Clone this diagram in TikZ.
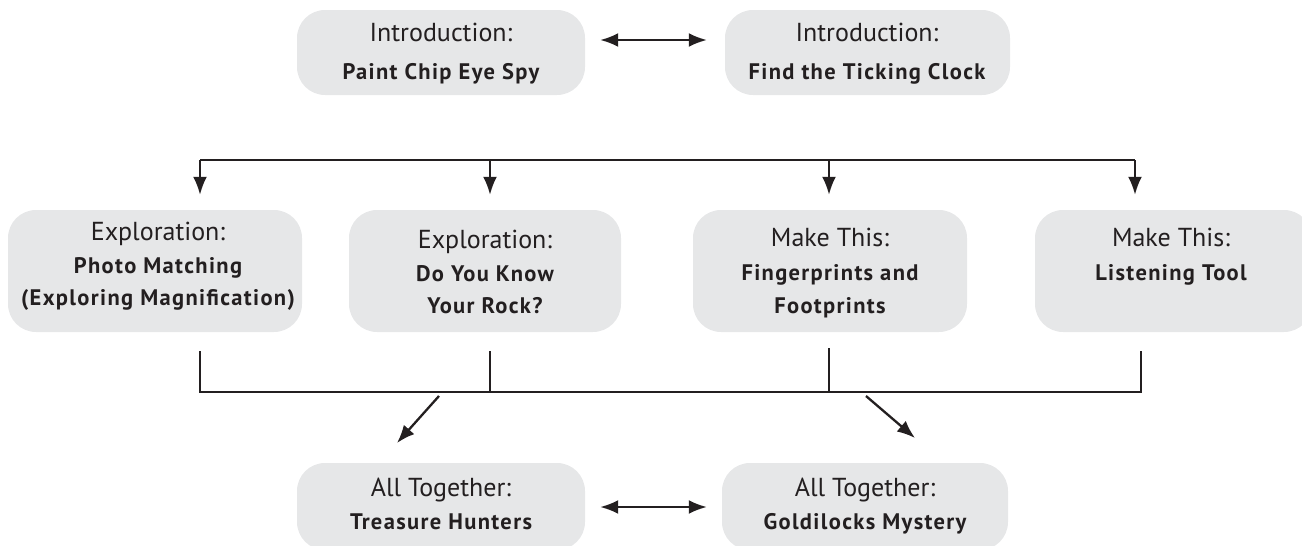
\documentclass[tikz,border=0pt]{standalone}
\usepackage{fontspec}
\setmainfont{PT Sans}
\newfontfamily\subf{PT Sans}[LetterSpace=6]
\usetikzlibrary{arrows.meta,calc}
\definecolor{boxgray}{HTML}{E6E7E8}
\definecolor{ink}{HTML}{231F20}
\tikzset{
  box/.style={fill=boxgray, draw=none, rounded corners=28pt, inner sep=0pt},
  lnone/.style={anchor=mid, inner sep=0pt, text=ink, font=\fontsize{26}{28}\selectfont},
  lntwo/.style={anchor=mid, inner sep=0pt, text=ink, font=\subf\bfseries\fontsize{22.5}{26}\selectfont},
  conn/.style={draw=ink, line width=2.4pt},
  thinconn/.style={draw=ink, line width=1.6pt},
  arr/.style={draw=ink, line width=2.3pt, -{Latex[length=18pt,width=14pt]}},
  darr/.style={draw=ink, line width=2.3pt, {Latex[length=18pt,width=14pt]}-{Latex[length=18pt,width=14pt]}},
}
\begin{document}
\begin{tikzpicture}[x=1pt,y=-1pt]
\useasboundingbox (0,0) rectangle (1302,546);
\clip (0,0) rectangle (1302,546);
% boxes
\node[box, minimum width=288pt, minimum height=85pt] (i1) at (441,52.5) {};
\node[box, minimum width=285pt, minimum height=85pt] (i2) at (867.5,52.5) {};
\node[box, minimum width=294pt, minimum height=122pt] (e1) at (155,271) {};
\node[box, minimum width=272pt, minimum height=122pt] (e2) at (485,271) {};
\node[box, minimum width=274pt, minimum height=122pt] (m1) at (830,271) {};
\node[box, minimum width=277pt, minimum height=122pt] (m2) at (1173.5,271) {};
\node[box, minimum width=288pt, minimum height=87pt] (a1) at (441,506.5) {};
\node[box, minimum width=286pt, minimum height=87pt] (a2) at (865,506.5) {};
% texts
\node[lnone] (i1a) at (441,39) {Introduction:};
\node[lntwo] (i1b) at (441,77) {Paint Chip Eye Spy};
\node[lnone] (i2a) at (867,39) {Introduction:};
\node[lntwo] (i2b) at (867,77) {Find the Ticking Clock};
\node[lnone] (e1a) at (158,238) {Exploration:};
\node[lntwo] (e1b) at (158,271) {Photo Matching};
\node[lntwo] (e1c) at (158,303) {(Exploring Magnification)};
\node[lnone] (e2a) at (485,246) {Exploration:};
\node[lntwo] (e2b) at (485,279) {Do You Know};
\node[lntwo] (e2c) at (485,311) {Your Rock?};
\node[lnone] (m1a) at (830,244) {Make This:};
\node[lntwo] (m1b) at (830,278) {Fingerprints and};
\node[lntwo] (m1c) at (830,311) {Footprints};
\node[lnone] (m2a) at (1171,244) {Make This:};
\node[lntwo] (m2b) at (1171,278) {Listening Tool};
\node[lnone] (a1a) at (441,494) {All Together:};
\node[lntwo] (a1b) at (441,527) {Treasure Hunters};
\node[lnone] (a2a) at (865,494) {All Together:};
\node[lntwo] (a2b) at (865,527) {Goldilocks Mystery};
% top double arrow
\draw[darr] ([shift={(15pt,12.5pt)}]i1.east) -- ([shift={(-18pt,12.5pt)}]i2.west);
% top bus
\coordinate (t1) at (200,160);
\coordinate (t2) at (490,160);
\coordinate (t3) at (829,160);
\coordinate (t4) at (1135,160);
\draw[conn] (t1) -- (t4);
\draw[arr, shorten >=15pt] (t1) -- (t1 |- e1.north);
\draw[arr, shorten >=15pt] (t2) -- (t2 |- e2.north);
\draw[arr, shorten >=15pt] (t3) -- (t3 |- m1.north);
\draw[arr, shorten >=15pt] (t4) -- (t4 |- m2.north);
% bottom bus
\coordinate (u1) at (200,351);
\coordinate (u2) at (490,351);
\coordinate (u3) at (829,348);
\coordinate (u4) at (1141,351);
\coordinate (b1) at (200,392);
\coordinate (b2) at (490,392);
\coordinate (b3) at (829,392);
\coordinate (b4) at (1141,392);
\draw[conn] (u1) -- (b1) -- (b4) -- (u4);
\draw[thinconn] (u2) -- (b2);
\draw[thinconn] (u3) -- (b3);
% diagonals
\coordinate (d1) at (439,396);
\coordinate (d1e) at (397,443);
\coordinate (d2) at (866,396);
\coordinate (d2e) at (915,438);
\draw[arr] (d1) -- (d1e);
\draw[arr] (d2) -- (d2e);
% bottom double arrow
\draw[darr] ([shift={(15pt,-0.5pt)}]a1.east) -- ([shift={(-15pt,-0.5pt)}]a2.west);
\end{tikzpicture}
\end{document}
